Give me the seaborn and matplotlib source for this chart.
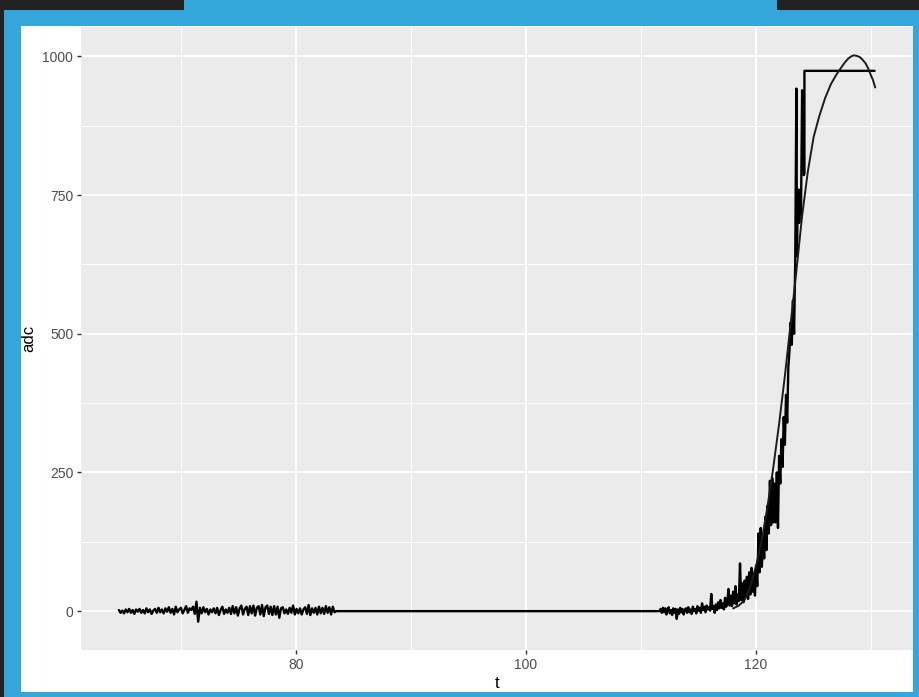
import numpy as np
import pandas as pd
import matplotlib
matplotlib.use("Agg")
import matplotlib.pyplot as plt
import seaborn as sns
from matplotlib.patches import Rectangle
from matplotlib.ticker import FixedLocator

# ---------------- data ----------------
noise_start_t, noise_end_t = 64.6, 83.5
adc_noise = [2, -3, 1, -4, 3, -2, 4, -3, 2, -5, 3, -1, 4,
             -3, 2, -4, 5, -2, 3, -5, 1, 4, -3, 6, -2, 3,
             -4, 5, -1, 7, -3, 4, -6, 8, -2, 3, 6, -4, 2,
             9, -3, 5, 2, 8, -5, 17, -19, 6, -4, 7, -2, 4,
             -6, 3, -2, 5, -4, 6, -7, 2, 8, -5, 3, -3, 6,
             -5, 9, -4, 7, -8, 5, 10, -6, 4, 8, -7, 9, -4,
             10, -8, 6, 9, -6, 11, -9, 7, 10, -5, 8, -7, 9,
             -6, 8, -12, 5, 7, -4, 3, -5, 6, -3, 10, -6, 4,
             -4, 5, -6, 3, 7, -5, 11, -7, 5, -3, 6, -6, 8,
             -4, 6, -5, 9, -3, 7, -6, 8, -2, 0]

rise_start_t, rise_end_t = 111.6, 123.4
adc_rise = [0, 4, -3, 6, -2, 5, -6, 3, 7, -4,
            2, -7, 5, -3, 4, -14, 3, -5, 6, -2,
            4, -6, 2, 5, -3, 7, -2, 3, -5, 8,
            0, 4, -4, 9, 1, 6, -3, 14, 2, 8,
            -2, 10, 3, 7, 1, 31, 4, 9, -3, 12,
            2, 16, 5, 20, 6, 14, 3, 24, 8, 18,
            40, 10, 28, 9, 35, 14, 45, 12, 30, 18,
            86, 20, 50, 16, 55, 25, 62, 22, 70, 30,
            78, 35, 68, 28, 82, 45, 140, 70, 150, 80,
            135, 95, 170, 110, 190, 140, 235, 155, 240, 160,
            230, 160, 250, 150, 280, 230, 310, 260, 350, 300,
            390, 340, 440, 470, 520, 480, 560, 500, 630]

t_tail = [123.5, 123.55, 123.6, 123.7, 123.75, 123.8, 123.9, 124.0,
          124.05, 124.1, 124.15, 124.2, 124.2, 130.3]
adc_tail = [942, 640, 720, 760, 700, 755, 715, 939,
            800, 935, 786, 790, 974, 974]

t_fit = [118.0, 118.5, 119.0, 119.5, 120.0, 120.5, 121.0, 121.5, 122.0,
         122.5, 123.0, 123.5, 124.0, 124.5, 125.0, 125.5, 126.0, 126.5,
         127.0, 127.5, 127.75, 128.0, 128.25, 128.5, 128.75, 129.0,
         129.25, 129.5, 129.75, 130.0, 130.15, 130.35]
adc_fit = [5, 10, 20, 45, 82, 129, 190, 260, 338, 424, 518, 613, 713,
           793, 855, 893, 925, 950, 968, 983, 990, 996, 1000, 1002, 1001,
           999, 994, 988, 978, 965, 958, 944]

x_major = [80, 100, 120]
x_minor = [70, 90, 110, 130]
y_major = [0, 250, 500, 750, 1000]
y_minor = [125, 375, 625, 875]

t_noise = np.linspace(noise_start_t, noise_end_t, len(adc_noise))
t_rise = np.linspace(rise_start_t, rise_end_t, len(adc_rise))
df = pd.DataFrame({
    "t": np.concatenate([t_noise, t_rise, t_tail]),
    "adc": np.concatenate([adc_noise, adc_rise, adc_tail]).astype(float),
})
df_fit = pd.DataFrame({"t": t_fit, "adc": adc_fit})

# ---------------- figure ----------------
sns.set_theme(style="white")
plt.rcParams["font.family"] = ["Liberation Sans", "DejaVu Sans"]

W, H = 919, 697
fig = plt.figure(figsize=(W / 100, H / 100), dpi=100, facecolor="#222222")


def box(x0, y0, x1, y1, color):
    fig.patches.append(Rectangle((x0 / W, 1 - y1 / H), (x1 - x0) / W, (y1 - y0) / H,
                                 transform=fig.transFigure, facecolor=color,
                                 edgecolor="none", zorder=-10))


BLUE = "#35a6dc"
box(4, 10, W, H, BLUE)
box(184, 0, 777, 11, BLUE)
box(21, 26, 913, 692, "white")

ax = fig.add_axes([81 / W, 1 - 650 / H, (913 - 81) / W, (650 - 27) / H])
ax.set_facecolor("#EBEBEB")

sns.lineplot(data=df, x="t", y="adc", estimator=None, sort=False,
             color="black", linewidth=1.7, ax=ax)
sns.lineplot(data=df_fit, x="t", y="adc", estimator=None, sort=False,
             color="#1c1c1c", linewidth=1.4, ax=ax)

# ggplot-like expansion of 5%
tmin = min(df["t"].min(), df_fit["t"].min())
tmax = max(df["t"].max(), df_fit["t"].max())
vmin = min(df["adc"].min(), df_fit["adc"].min())
vmax = max(df["adc"].max(), df_fit["adc"].max())
ax.set_xlim(tmin - 0.05 * (tmax - tmin), tmax + 0.05 * (tmax - tmin))
ax.set_ylim(vmin - 0.05 * (vmax - vmin), vmax + 0.05 * (vmax - vmin))

ax.xaxis.set_major_locator(FixedLocator(x_major))
ax.xaxis.set_minor_locator(FixedLocator(x_minor))
ax.yaxis.set_major_locator(FixedLocator(y_major))
ax.yaxis.set_minor_locator(FixedLocator(y_minor))
ax.set_xticklabels([str(v) for v in x_major])
ax.set_yticklabels([str(v) for v in y_major])

ax.grid(which="major", color="white", linewidth=1.3)
ax.grid(which="minor", color="white", linewidth=0.65)
ax.set_axisbelow(True)
for s in ax.spines.values():
    s.set_visible(False)

ax.tick_params(which="major", length=3, width=1, color="#333333",
               labelcolor="#4D4D4D", labelsize=10, pad=2.5,
               bottom=True, left=True)
ax.tick_params(which="minor", length=0)

ax.set_xlabel("t", fontsize=12, color="black")
ax.set_ylabel("adc", fontsize=12, color="black")
ax.xaxis.label.set_va("center")
ax.yaxis.label.set_va("center")
ax.xaxis.set_label_coords(0.5, (650 - 683) / 623)
ax.yaxis.set_label_coords((29 - 81) / 832, 0.5)

fig.savefig("out.png", dpi=100, facecolor=fig.get_facecolor())
